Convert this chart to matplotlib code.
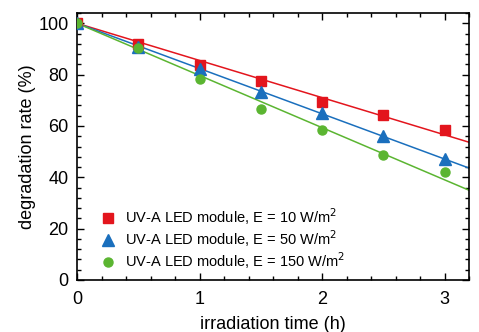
import numpy as np
import matplotlib
matplotlib.use("Agg")
import matplotlib.pyplot as plt
from matplotlib.ticker import MultipleLocator

plt.rcParams['font.family'] = ['Liberation Sans', 'DejaVu Sans']

time_h = [0, 0.5, 1.0, 1.5, 2.0, 2.5, 3.0]
rate_10 = [100, 91.8, 83.6, 77.6, 69.2, 64.2, 58.6]
rate_50 = [100, 90.8, 82.0, 73.4, 65.0, 56.1, 47.1]
rate_150 = [100, 90.4, 78.2, 66.6, 58.3, 48.7, 42.0]
labels = ["UV-A LED module, E = 10 W/m$^2$",
          "UV-A LED module, E = 50 W/m$^2$",
          "UV-A LED module, E = 150 W/m$^2$"]
colors = ["#e3151d", "#1a6fbd", "#5bb531"]
markers = ["s", "^", "o"]

fig = plt.figure(figsize=(4.79, 3.32), dpi=100)
ax = fig.add_axes([77/479, 1-280/332, (469-77)/479, (280-13)/332])

x = np.array(time_h)
xf = np.array([0, 3.2])
for ys, c, m, lab in zip([rate_10, rate_50, rate_150], colors, markers, labels):
    y = np.array(ys)
    k = np.sum(x * (y - y[0])) / np.sum(x * x)
    ax.plot(xf, y[0] + k * xf, color=c, lw=1.1, zorder=2)
    ax.plot(x, y, ls='none', marker=m, color=c, ms=6.5 if m != '^' else 8,
            mec=c, label=lab, zorder=3)

ax.set_xlim(0, 3.2)
ax.set_ylim(0, 104)
ax.xaxis.set_major_locator(MultipleLocator(1))
ax.xaxis.set_minor_locator(MultipleLocator(0.2))
ax.yaxis.set_major_locator(MultipleLocator(20))
ax.yaxis.set_minor_locator(MultipleLocator(4))
ax.tick_params(which='both', direction='in', top=True, right=True, width=1.0)
ax.tick_params(which='major', length=5, labelsize=13)
ax.tick_params(axis='x', which='major', pad=8)
ax.tick_params(axis='y', which='major', pad=6)
ax.tick_params(which='minor', length=3)
for s in ax.spines.values():
    s.set_linewidth(1.2)
ax.set_xlabel("irradiation time (h)", fontsize=13, labelpad=6)
ax.set_ylabel("degradation rate (%)", fontsize=13, labelpad=2)
ax.legend(loc='lower left', bbox_to_anchor=(0.045, 0.012), frameon=False,
          fontsize=10.5, handletextpad=0.7, labelspacing=0.1, handlelength=1.0,
          borderaxespad=0)

fig.savefig("out.png", dpi=100)
